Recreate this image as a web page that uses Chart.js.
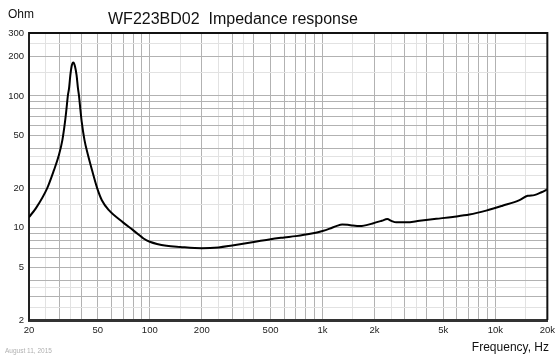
<!DOCTYPE html>
<html>
<head>
<meta charset="utf-8">
<script src="https://cdn.jsdelivr.net/npm/chart.js@4.4.1/dist/chart.umd.min.js"></script>
<style>
  html, body { margin: 0; padding: 0; background: #ffffff; }
  #wrap { position: relative; width: 560px; height: 357px; }
</style>
</head>
<body>
<div id="wrap"><canvas id="c" width="560" height="357"></canvas></div>
<script>
// ---- data ----
const freqHz = [20, 21.95, 25.5, 27.9, 29.8, 31.2, 32.3, 32.9, 33.6, 34.1, 34.7, 35.3, 36.1, 36.9, 37.7, 38.4, 38.9, 39.7, 40.4, 41.9, 43.9, 46.3, 49.6, 52.8, 58, 70, 80, 86, 92, 100, 125, 150, 200, 250, 300, 400, 500, 600, 700, 850, 1000, 1100, 1200, 1300, 1400, 1500, 1650, 1950, 2200, 2370, 2500, 2670, 3050, 3640, 4550, 5670, 7080, 8850, 11000, 13800, 15400, 16800, 18500, 20000];
const impedanceOhm = [12.05, 14.1, 20.0, 27.4, 35.6, 46.2, 63.2, 78, 101.3, 114, 143.6, 168, 179, 168, 143.6, 114.4, 101.3, 78, 63.2, 46.2, 35.6, 27.4, 20.0, 16.2, 13.6, 11.0, 9.6, 8.9, 8.3, 7.84, 7.3, 7.15, 7.0, 7.1, 7.35, 7.8, 8.2, 8.45, 8.65, 9.0, 9.45, 9.85, 10.3, 10.6, 10.55, 10.4, 10.3, 10.8, 11.3, 11.65, 11.3, 11.0, 11.0, 11.3, 11.7, 12.1, 12.6, 13.5, 14.7, 16.2, 17.5, 17.7, 18.6, 19.6];

const xTickValues = [20, 50, 100, 200, 500, 1000, 2000, 5000, 10000, 20000];
const xTickLabels = ['20', '50', '100', '200', '500', '1k', '2k', '5k', '10k', '20k'];
const yTickValues = [2, 5, 10, 20, 50, 100, 200, 300];
const yTickLabels = ['2', '5', '10', '20', '50', '100', '200', '300'];

const titleText = 'WF223BD02  Impedance response';
const yUnitText = 'Ohm';
const xAxisText = 'Frequency, Hz';
const dateText = 'August 11, 2015';

// ---- grid line positions (major 1..9 per decade, light half steps) ----
const majorMult = [1, 2, 3, 4, 5, 6, 7, 8, 9];
const minorMult = [1.5, 2.5, 3.5];
function gridValues(min, max, decades) {
  const out = [];
  decades.forEach(d => {
    majorMult.forEach(m => out.push({ v: m * d, major: true }));
    minorMult.forEach(m => out.push({ v: m * d, major: false }));
  });
  return out.filter(o => o.v >= min - 1e-9 && o.v <= max + 1e-9).sort((a, b) => a.v - b.v);
}
const xGrid = gridValues(20, 20000, [10, 100, 1000, 10000]);
const yGrid = gridValues(2, 300, [1, 10, 100]);
const isMajor = (list, v) => { const g = list.find(o => Math.abs(o.v - v) < 1e-6); return g ? g.major : true; };

const PLOT = { left: 29, right: 548, top: 33, bottom: 320 };

const textPlugin = {
  id: 'texts',
  afterDraw(chart) {
    const ctx = chart.ctx;
    const a = chart.chartArea;
    ctx.save();
    ctx.strokeStyle = '#111111';
    ctx.lineWidth = 2;
    ctx.beginPath();
    ctx.moveTo(a.left, a.top);
    ctx.lineTo(a.right, a.top);
    ctx.lineTo(a.right, a.bottom);
    ctx.stroke();
    ctx.textBaseline = 'alphabetic';
    ctx.fillStyle = '#111111';
    ctx.font = '16px "Liberation Sans", Arial, sans-serif';
    ctx.textAlign = 'left';
    ctx.fillText(titleText, 108, 24);
    ctx.font = '12px "Liberation Sans", Arial, sans-serif';
    ctx.fillText(yUnitText, 8, 18);
    ctx.textAlign = 'right';
    ctx.fillText(xAxisText, 549, 351);
    ctx.textAlign = 'left';
    ctx.fillStyle = '#b0b0b0';
    ctx.font = '6.5px "Liberation Sans", Arial, sans-serif';
    ctx.fillText(dateText, 5, 353);
    ctx.restore();
  }
};

new Chart(document.getElementById('c'), {
  type: 'line',
  data: {
    datasets: [{
      data: freqHz.map((f, i) => ({ x: f, y: impedanceOhm[i] })),
      borderColor: '#000000',
      borderWidth: 2,
      pointRadius: 0,
      fill: false,
      cubicInterpolationMode: 'monotone'
    }]
  },
  options: {
    responsive: false,
    devicePixelRatio: 1,
    animation: false,
    layout: { padding: { left: 0, top: PLOT.top, right: 560 - PLOT.right, bottom: 0 } },
    plugins: { legend: { display: false }, tooltip: { enabled: false } },
    scales: {
      x: {
        type: 'logarithmic',
        min: 20, max: 20000,
        afterFit: s => { s.height = 357 - PLOT.bottom; },
        afterBuildTicks: s => { s.ticks = xGrid.map(o => ({ value: o.v })); },
        grid: {
          drawTicks: false,
          color: ctx => isMajor(xGrid, ctx.tick ? ctx.tick.value : 0) ? '#b2b2b2' : '#e2e2e2',
          lineWidth: 1
        },
        border: { display: true, color: '#333333', width: 3 },
        ticks: {
          autoSkip: false, maxRotation: 0, minRotation: 0, padding: 5,
          color: '#222222',
          font: { family: '"Liberation Sans", Arial, sans-serif', size: 9.5 },
          callback: v => { const i = xTickValues.indexOf(v); return i >= 0 ? xTickLabels[i] : ''; }
        }
      },
      y: {
        type: 'logarithmic',
        min: 2, max: 300,
        afterFit: s => { s.width = PLOT.left; },
        afterBuildTicks: s => { s.ticks = yGrid.map(o => ({ value: o.v })); },
        grid: {
          drawTicks: false,
          color: ctx => isMajor(yGrid, ctx.tick ? ctx.tick.value : 0) ? '#b2b2b2' : '#e2e2e2',
          lineWidth: 1
        },
        border: { display: true, color: '#222222', width: 2 },
        ticks: {
          autoSkip: false, padding: 5,
          color: '#222222',
          font: { family: '"Liberation Sans", Arial, sans-serif', size: 9.5 },
          callback: v => { const i = yTickValues.indexOf(v); return i >= 0 ? yTickLabels[i] : ''; }
        }
      }
    }
  },
  plugins: [textPlugin]
});
</script>
</body>
</html>
